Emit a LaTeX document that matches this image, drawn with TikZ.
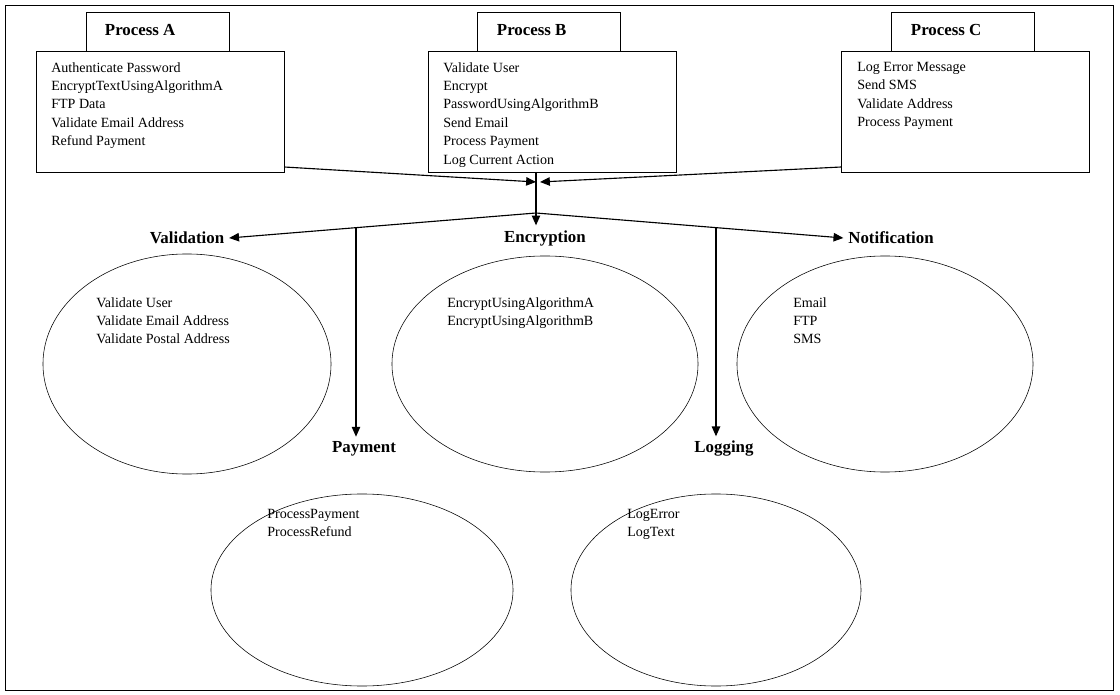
\documentclass[tikz,border=0pt]{standalone}
\usepackage{fontspec}
\setmainfont{Liberation Serif}
\usetikzlibrary{shapes.geometric,arrows.meta}
\tikzset{
  tab/.style={draw, minimum width=3.575cm, minimum height=0.975cm},
  body/.style={draw, minimum width=6.2cm, minimum height=3.025cm},
  items/.style={anchor=north west, align=left, font=\fontsize{10}{13.1}\selectfont, inner sep=0pt},
  title/.style={font=\fontsize{12}{14}\selectfont\bfseries},
  blob/.style={draw, ellipse},
  flow/.style={-{Triangle[length=7pt,width=6pt]}, thick},
}
\begin{document}
\begin{tikzpicture}[x=0.025cm,y=-0.025cm]
				\useasboundingbox (0,0) rectangle (1120,695);
				\draw (5,5) rectangle (1113,690);
				% process boxes
				\node (tA)[tab] at (157.5,31.5){};
				\node (bA)[body] at (160,111.5){};
				\node [title, anchor=west] at (100,30){Process A};
				\node (lA)[items] at (51,62){Authenticate Password\\EncryptTextUsingAlgorithmA\\FTP Data\\Validate Email Address\\Refund Payment};
				%
				\node (tB)[tab] at (549,31.5){};
				\node (bB)[body] at (552,111.5){};
				\node [title, anchor=west] at (492,30){Process B};
				\begin{scope}
				\clip (428,51) rectangle (676,167);
				\node (lB)[items] at (443,62){Validate User\\Encrypt\\PasswordUsingAlgorithmB\\Send Email\\Process Payment\\Log Current Action};
				\end{scope}
				%
				\node (tC)[tab] at (963,31.5){};
				\node (bC)[body] at (965.5,111.5){};
				\node [title, anchor=west] at (906,30){Process C};
				\node (lC)[items] at (857,62){Log Error Message\\Send SMS\\Validate Address\\Process Payment};
				%
				\coordinate (inA) at (536,182);
				\coordinate (inC) at (540,182);
				\coordinate (hub) at (536,213);
				\coordinate (outB) at (536,172);
				\draw[flow] (bA.east |- 0,167) -- (inA);
				\draw[flow] (bC.west |- 0,167) -- (inC);
				% services
				\node (val)[title] at (187,238){Validation};
				\node (enc)[title] at (545,238){Encryption};
				\node (noti)[title] at (891,238){Notification};
				\node (pay)[title] at (364,449){Payment};
				\node (log)[title] at (724,449){Logging};
				\draw[flow] (outB) -- (outB |- enc.north);
				\draw[flow] (hub) -- (val.east);
				\draw[flow] (hub) -- (noti.west);
				\coordinate (pTop) at (356,228);
				\coordinate (lTop) at (716,228);
				\draw[flow] (pTop) -- (pTop |- pay.north);
				\draw[flow] (lTop) -- (lTop |- log.north);
				%
				\node (eVal)[blob, minimum width=7.2cm, minimum height=5.5cm] at (187,364){};
				\node (eEnc)[blob, minimum width=7.65cm, minimum height=5.4cm] at (545,364){};
				\node (eNoti)[blob, minimum width=7.4cm, minimum height=5.4cm] at (885,364){};
				\node (ePay)[blob, minimum width=7.55cm, minimum height=4.8cm] at (362,590){};
				\node (eLog)[blob, minimum width=7.25cm, minimum height=4.8cm] at (716,590){};
				\node [items] at (96,297){Validate User\\Validate Email Address\\Validate Postal Address};
				\node [items] at (447,297){EncryptUsingAlgorithmA\\EncryptUsingAlgorithmB};
				\node [items] at (793,297){Email\\FTP\\SMS};
				\node [items] at (267,509){ProcessPayment\\ProcessRefund};
				\node [items] at (627,509){LogError\\LogText};
			\end{tikzpicture}
\end{document}
